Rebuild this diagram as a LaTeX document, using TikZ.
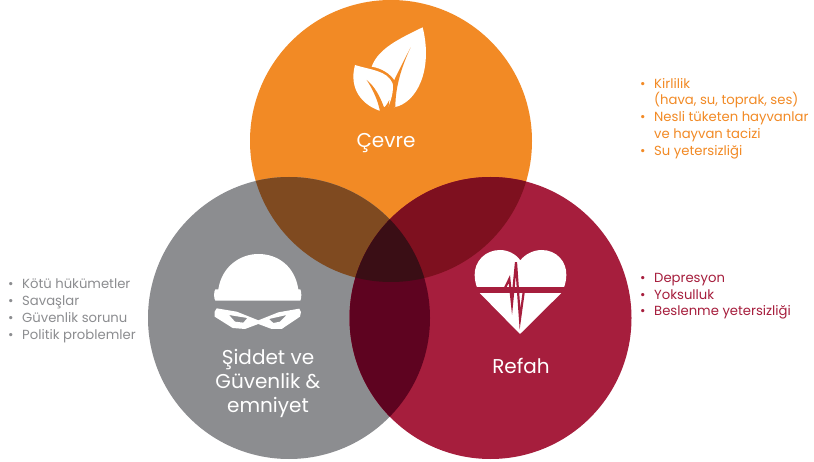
\documentclass[tikz,border=0pt]{standalone}
\usepackage{fontspec}
\setmainfont{Poppins}
\definecolor{cOr}{HTML}{F28A25}
\definecolor{cGr}{HTML}{8C8D90}
\definecolor{cRe}{HTML}{A61E3D}
\definecolor{cOG}{HTML}{7F4A20}
\definecolor{cOR}{HTML}{7E101F}
\definecolor{cGR}{HTML}{5E0320}
\definecolor{cAll}{HTML}{3A0E15}
\tikzset{
  title/.style={text=white,font=\fontsize{20}{24}\selectfont,align=center,inner sep=0pt},
  bul/.style={anchor=north west,inner sep=0pt,align=left,font=\fontsize{13.2}{16.7}\selectfont},
  bulgr/.style={bul,text=cGr},
  bulor/.style={bul,text=cOr},
  bulre/.style={bul,text=cRe}
}
\newcommand{\bl}{\makebox[14pt][l]{\raisebox{0pt}{\textbullet}}}
\newcommand{\ind}{\hspace*{14pt}}
\def\cO{(391,141) circle (141)}
\def\cG{(289,318) circle (141)}
\def\cR{(490.5,318) circle (141)}
\begin{document}
\begin{tikzpicture}[x=1pt,y=-1pt]
\useasboundingbox (0,0) rectangle (814,462);
\fill[white] (0,0) rectangle (814,462);
\fill[cOr] \cO;
\fill[cGr] \cG;
\fill[cRe] \cR;
\begin{scope}\clip \cO; \fill[cOG] \cG; \fill[cOR] \cR; \end{scope}
\begin{scope}\clip \cG; \fill[cGR] \cR; \end{scope}
\begin{scope}\clip \cO; \clip \cG; \fill[cAll] \cR; \end{scope}
% leaf icon
\begin{scope}[shift={(320,20)},x=0.3333pt,y=-0.3333pt]
\fill[white] (308,22) .. controls (240,55) and (175,85) .. (155,140)
  .. controls (185,145) and (210,160) .. (224,182) -- (222,262)
  .. controls (290,250) and (340,150) .. cycle;
\fill[white] (105,135) .. controls (150,150) and (200,150) .. (218,190)
  .. controls (222,215) and (212,245) .. (203,264) -- (178,272)
  .. controls (130,255) and (85,210) .. cycle;
\fill[cOr] (272,82) .. controls (250,125) and (232,160) .. (222,182) -- (218,262) -- (226,262)
  .. controls (226,200) and (245,140) .. cycle;
\fill[cOr] (140,180) .. controls (160,210) and (175,245) .. (180,275) -- (205,268) -- (208,240)
  .. controls (200,255) and (195,262) .. (192,262) .. controls (180,230) and (165,200) .. cycle;
\end{scope}
% helmet icon
\begin{scope}[shift={(190,250)},x=0.3333pt,y=-0.3333pt]
\fill[white] (85,118) .. controls (95,50) and (150,12) .. (205,12) .. controls (265,12) and (315,50) .. (325,118)
  -- (331,118) .. controls (335,125) and (335,145) .. (331,152) -- (76,152) .. controls (71,145) and (71,125) .. (76,118) -- cycle;
\fill[white,even odd rule] (80,175) -- (140,185) -- (205,211) -- (265,187) -- (328,176) -- (333,186) -- (330,200) -- (275,237) -- (245,237) -- (205,222) -- (165,237) -- (128,234) -- (74,200) -- (74,185) -- cycle
  (117,195) -- (172,204) -- (160,218) -- (135,215) -- cycle
  (237,207) -- (290,195) -- (270,215) -- (250,219) -- cycle;
\end{scope}
% heart icon
\begin{scope}[shift={(460,235)},x=0.3333pt,y=-0.3333pt]
\fill[white] (180,297) -- (60,175) .. controls (50,160) and (44,140) .. (44,120)
  .. controls (43,80) and (75,45) .. (120,45)
  .. controls (145,45) and (168,58) .. (181,76) .. controls (195,58) and (220,45) .. (245,45)
  .. controls (290,45) and (320,80) .. (319,120) .. controls (319,140) and (313,160) .. (303,175) -- cycle;
\fill[cRe] (30,155) rectangle (335,175);
\draw[cRe,line width=2.2pt,miter limit=10] (60,165) -- (132,165) -- (148,132) -- (156,207) -- (168,82) -- (180,252) -- (192,165) -- (300,165);
\end{scope}
\node[title] (cevre) at (386,143) {Çevre};
\node[title] (siddet) at (268,383) {Şiddet ve\\Güvenlik \&\\emniyet};
\node[title] (refah) at (521,366) {Refah};
\node[bulgr] (l1) at (8,279) {\bl Kötü hükümetler\\\bl Savaşlar\\\bl Güvenlik sorunu\\\bl Politik problemler};
\node[bulor] (l2) at (640,78) {\bl Kirlilik\\\ind (hava, su, toprak, ses)\\\bl Nesli tüketen hayvanlar\\\ind ve hayvan tacizi\\\bl Su yetersizliği};
\node[bulre] (l3) at (640,273) {\bl Depresyon\\\bl Yoksulluk\\\bl Beslenme yetersizliği};
\end{tikzpicture}
\end{document}
